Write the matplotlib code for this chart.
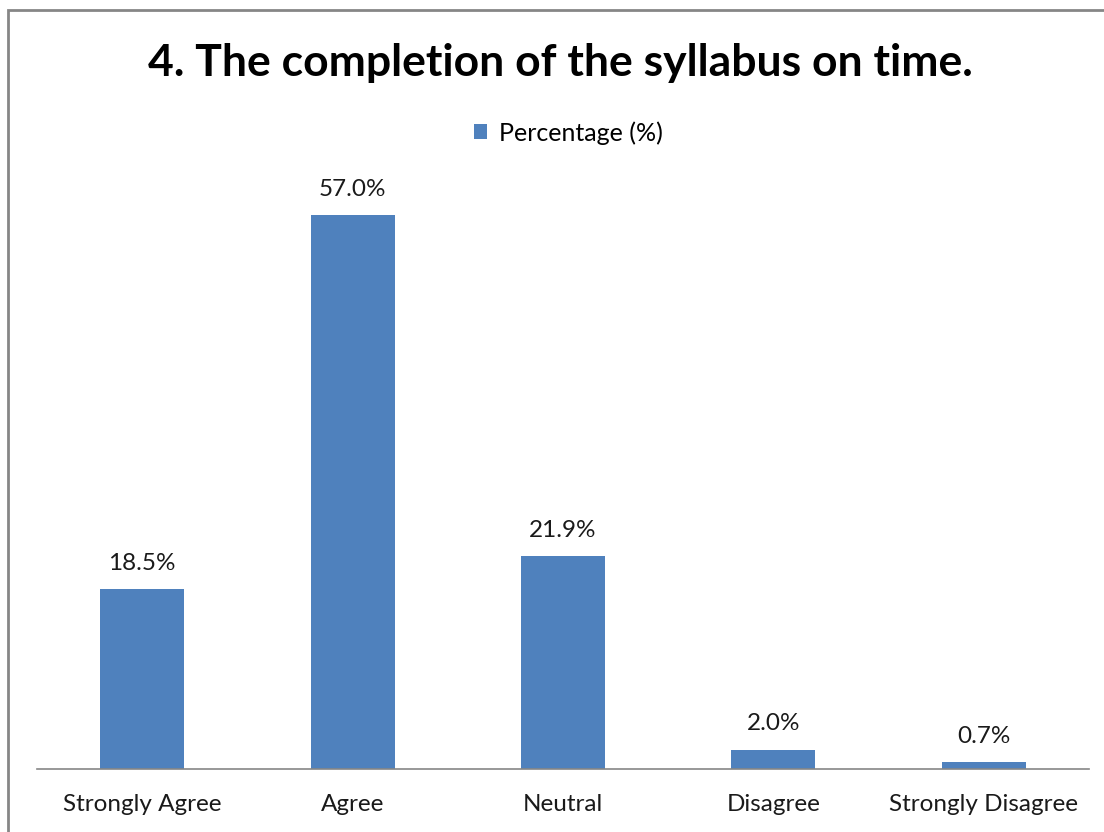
import matplotlib
matplotlib.use("Agg")
import matplotlib.pyplot as plt
from matplotlib.patches import Rectangle

categories = ["Strongly Agree", "Agree", "Neutral", "Disagree", "Strongly Disagree"]
values = [18.5, 57.0, 21.9, 2.0, 0.7]
series_name = "Percentage (%)"
title = "4. The completion of the syllabus on time."

plt.rcParams['font.family'] = ['Lato', 'DejaVu Sans']

W, H = 1104, 832
fig = plt.figure(figsize=(W/100, H/100), dpi=100)

# outer border (extends beyond right/bottom edges)
fig.add_artist(Rectangle((8/W, -0.1), 1.2, 1 - 10/H + 0.1, transform=fig.transFigure,
                         fill=False, edgecolor='#868686', linewidth=2))

x0, x1 = 37, 1089
ybase = 769
ppu = 9.72
ymax = 60
ytop = ybase - ymax * ppu
ax = fig.add_axes([x0/W, (H - ybase)/H, (x1 - x0)/W, (ybase - ytop)/H])
ax.set_facecolor('none')

color = '#4F81BD'
xs = list(range(len(categories)))
bars = ax.bar(xs, values, width=0.4, color=color, label=series_name)
ax.set_xlim(-0.5, len(categories) - 0.5)
ax.set_ylim(0, ymax)

for b, v in zip(bars, values):
    ax.annotate(f"{v:.1f}%", (b.get_x() + b.get_width()/2, v), xytext=(0, 11),
                textcoords='offset points', ha='center', va='bottom', fontsize=17.5, color='#1a1a1a')

for s in ['top', 'right', 'left']:
    ax.spines[s].set_visible(False)
ax.spines['bottom'].set_color('#868686')
ax.spines['bottom'].set_linewidth(1.2)
ax.set_yticks([])
ax.set_xticks(xs)
ax.set_xticklabels(categories, fontsize=17.5, color='#1a1a1a')
ax.tick_params(axis='x', length=0, pad=18)

fig.text(560/W, 1 - 63/H, title, ha='center', va='center', fontsize=32, fontweight='bold', color='black')

leg = fig.legend(handles=[bars], labels=[series_name], loc='center', bbox_to_anchor=(568/W, 1 - 133/H),
                 frameon=False, fontsize=18, handlelength=0.55, handleheight=0.55, handletextpad=0.45)

fig.savefig("out.png", dpi=100)
